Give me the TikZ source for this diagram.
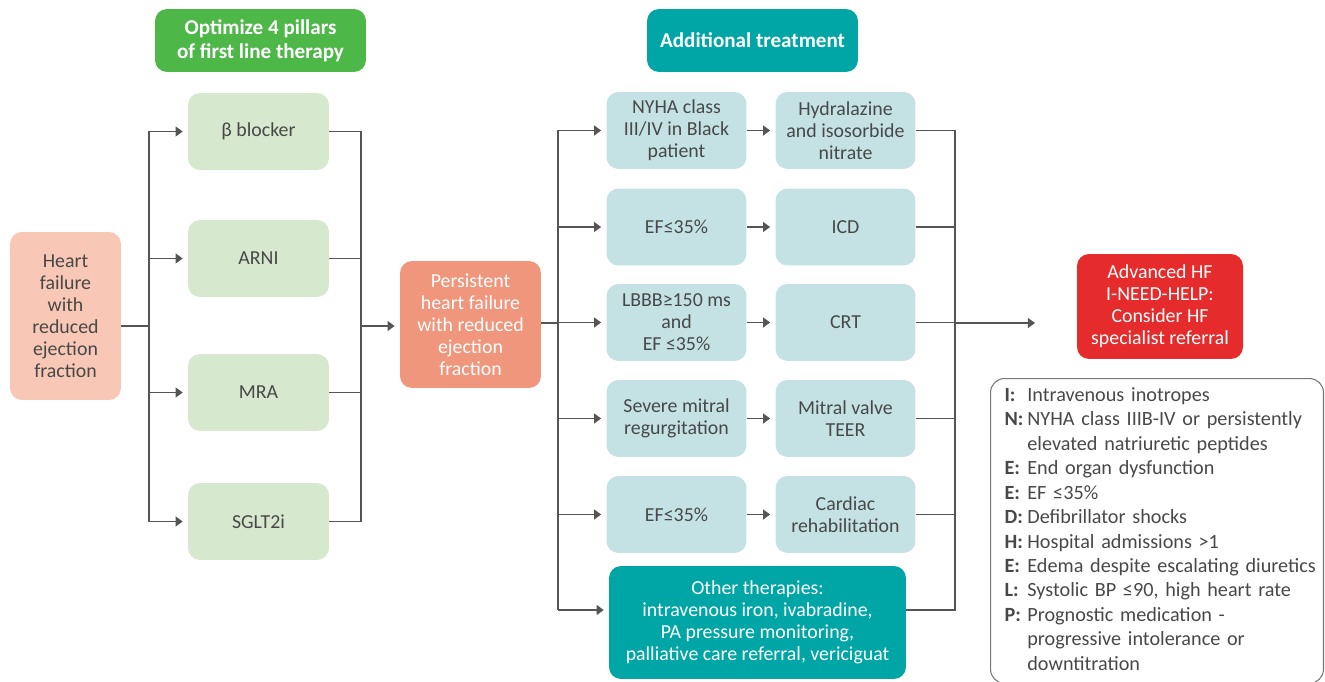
\documentclass[tikz,border=0pt]{standalone}
\usepackage{fontspec}
\setmainfont{Carlito}
\usepackage{array}
\usetikzlibrary{arrows.meta,positioning,calc}
\definecolor{pillarcolor}{RGB}{214,233,206}
\definecolor{headgreen}{RGB}{77,184,72}
\definecolor{headteal}{RGB}{0,166,166}
\definecolor{hfcolor}{RGB}{248,199,181}
\definecolor{persistcolor}{RGB}{240,150,124}
\definecolor{condcolor}{RGB}{196,226,228}
\definecolor{advcolor}{RGB}{229,43,43}
\definecolor{linecolor}{RGB}{85,85,85}
\definecolor{labelcolor}{RGB}{72,72,72}
\definecolor{legendborder}{RGB}{120,120,120}
\tikzset{
boxtext/.style={
  align=center,
  font=\fontsize{11.3}{12.5}\selectfont,
  text=labelcolor
},
headbox/.style={
  rounded corners=0.24cm,
  fill=#1,
  minimum width=4.22cm,
  minimum height=1.26cm,
  align=center,
  text=white,
  font=\fontsize{12}{13.5}\selectfont\bfseries
},
pillarbox/.style={
  rounded corners=0.24cm,
  fill=pillarcolor,
  minimum width=2.82cm,
  minimum height=1.54cm,
  boxtext
},
condbox/.style={
  rounded corners=0.24cm,
  fill=condcolor,
  minimum width=2.8cm,
  minimum height=1.54cm,
  boxtext
},
link/.style={
  line width=0.8pt,
  draw=linecolor
},
arrow/.style={
  link,
  -{Triangle[length=4pt,width=5.6pt]},
  shorten >=0.1cm
}
}
\begin{document}
\begin{tikzpicture}[x=0.02cm, y=-0.02cm]
  \useasboundingbox (0,0) rectangle (1325,682);
  % Headers
  \node[headbox=headgreen] (hdrA) at (260.5,40.5) {Optimize 4 pillars\\of first line therapy};
  \node[headbox=headteal] (hdrB) at (752.5,40.5) {Additional treatment};
  % Start
  \node[rounded corners=0.24cm, fill=hfcolor, minimum width=2.22cm, minimum height=3.36cm, boxtext]
    (hf) at (65.5,316) {Heart\\failure\\with\\reduced\\ejection\\fraction};
  % Four pillars
  \node[pillarbox] (bb) at (258.5,131.5) {β blocker};
  \node[pillarbox] (arni) at (258.5,258.5) {ARNI};
  \node[pillarbox] (mra) at (258.5,392.5) {MRA};
  \node[pillarbox] (sg) at (258.5,521.5) {SGLT2i};
  \node[rounded corners=0.24cm, fill=persistcolor, minimum width=2.82cm, minimum height=2.54cm, boxtext, text=white]
    (persist) at (470.5,324.5) {Persistent\\heart failure\\with reduced\\ejection\\fraction};
  % Additional treatment
  \node[condbox] (c1) at (676.5,130.5) {NYHA class\\III/IV in Black\\patient};
  \node[condbox] (t1) at (845.5,130.5) {Hydralazine\\and isosorbide\\nitrate};
  \node[condbox] (c2) at (676.5,227) {EF≤35\%};
  \node[condbox] (t2) at (845.5,227) {ICD};
  \node[condbox] (c3) at (676.5,322.5) {LBBB≥150 ms\\and\\EF ≤35\%};
  \node[condbox] (t3) at (845.5,322.5) {CRT};
  \node[condbox] (c4) at (676.5,418.5) {Severe mitral\\regurgitation};
  \node[condbox] (t4) at (845.5,418.5) {Mitral valve\\TEER};
  \node[condbox] (c5) at (676.5,514.5) {EF≤35\%};
  \node[condbox] (t5) at (845.5,514.5) {Cardiac\\rehabilitation};
  \node[rounded corners=0.24cm, fill=headteal, minimum width=5.94cm, minimum height=2.26cm, boxtext, text=white]
    (other) at (757.5,622.5) {Other therapies:\\intravenous iron, ivabradine,\\PA pressure monitoring,\\palliative care referral, vericiguat};
  % Advanced HF
  \node[rounded corners=0.24cm, fill=advcolor, minimum width=3.32cm, minimum height=2.1cm, boxtext, text=white]
    (adv) at (1160,306.5) {Advanced HF\\I-NEED-HELP:\\Consider HF\\specialist referral};
  \node[draw=legendborder, line width=0.6pt, rounded corners=0.28cm, anchor=north west,
    text width=6.1cm, minimum height=6.04cm, inner xsep=0.28cm, text=labelcolor,
    font=\fontsize{11.5}{13.9}\selectfont] (legend) at (990,378) {%
    \begin{tabular}{@{}>{\bfseries}p{13pt}@{}l@{}}
      I: & Intravenous inotropes\\
      N: & NYHA class IIIB-IV or persistently\\
         & elevated natriuretic peptides\\
      E: & End organ dysfunction\\
      E: & EF ≤35\%\\
      D: & Defibrillator shocks\\
      H: & Hospital admissions >1\\
      E: & Edema despite escalating diuretics\\
      L: & Systolic BP ≤90, high heart rate\\
      P: & Prognostic medication -\\
         & progressive intolerance or\\
         & downtitration
    \end{tabular}};
  % Bus coordinates
  \coordinate (lbus) at (149,326);
  \coordinate (rbus) at (361,326);
  \coordinate (cbus) at (558,323);
  \coordinate (obus) at (558,610);
  \coordinate (tbus) at (955,323);
  \coordinate (advin) at (1040,323);
  % Pillar connectors
  \draw[link] (hf.east |- lbus) -- (lbus);
  \draw[link] (lbus |- bb.west) -- (lbus |- sg.west);
  \foreach \p in {bb,arni,mra,sg} \draw[arrow] (lbus |- \p.west) -- (\p.west);
  \draw[link] (rbus |- bb.east) -- (rbus |- sg.east);
  \foreach \p in {bb,arni,mra,sg} \draw[link] (\p.east) -- (rbus |- \p.east);
  \draw[arrow] (rbus) -- (persist.west |- rbus);
  % Additional treatment connectors
  \draw[link] (persist.east |- cbus) -- (cbus);
  \draw[link] (cbus |- c1.west) -- (obus);
  \foreach \c/\t in {c1/t1,c2/t2,c3/t3,c4/t4,c5/t5} {
    \draw[arrow] (cbus |- \c.west) -- (\c.west);
    \draw[arrow] (\c.east) -- (\t.west);
    \draw[link] (\t.east) -- (tbus |- \t.east);
  }
  \draw[arrow] (obus) -- (other.west |- obus);
  \draw[link] (other.east |- obus) -- (tbus |- obus) -- (tbus |- t1.east);
  \draw[arrow] (tbus) -- (advin);
\end{tikzpicture}
\end{document}
